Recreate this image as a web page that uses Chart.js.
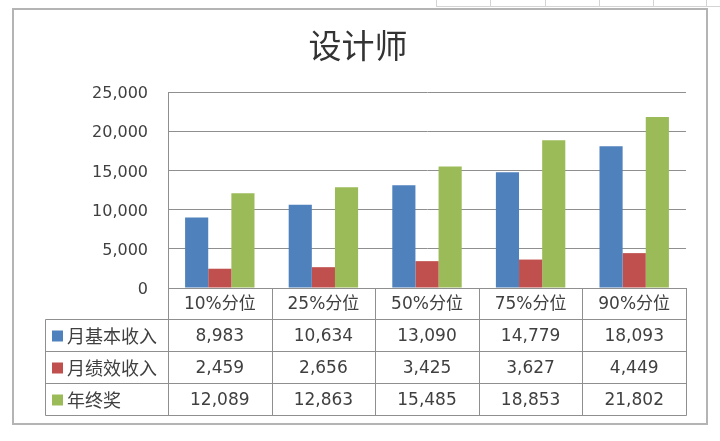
<!DOCTYPE html>
<html>
<head>
<meta charset="utf-8">
<script src="https://cdn.jsdelivr.net/npm/chart.js@4/dist/chart.umd.min.js"></script>
<style>
  html, body { margin: 0; padding: 0; background: #ffffff; }
  #wrap { width: 720px; height: 441px; position: relative; }
</style>
</head>
<body>
<div id="wrap"><canvas id="c" width="720" height="441"></canvas></div>
<script>
// Salary percentiles for designers
const categories = ['10%分位', '25%分位', '50%分位', '75%分位', '90%分位'];
const seriesNames = ['月基本收入', '月绩效收入', '年终奖'];
const baseMonthly = [8983, 10634, 13090, 14779, 18093];
const perfMonthly = [2459, 2656, 3425, 3627, 4449];
const yearBonus = [12089, 12863, 15485, 18853, 21802];
const yTicks = [0, 5000, 10000, 15000, 20000, 25000];
const titleText = '设计师';

const colors = ['#4F81BD', '#C0504D', '#9BBB59'];
const seriesValues = [baseMonthly, perfMonthly, yearBonus];
const FONT = '"DejaVu Sans", "Noto Sans CJK SC", sans-serif';
const CJK = '"Noto Sans CJK SC", "Noto Sans", sans-serif';
const TEXT = '#404040';
const LINE = '#8f8f8f';

const fmt = v => v.toLocaleString('en-US');

// Frame, title and the data table below the plot
const decorPlugin = {
  id: 'decor',
  beforeDraw(chart) {
    const ctx = chart.ctx;
    ctx.save();
    ctx.fillStyle = '#fff';
    ctx.fillRect(0, 0, chart.width, chart.height);
    // spreadsheet cells at the top right
    ctx.strokeStyle = '#d4d4d4';
    ctx.lineWidth = 1;
    ctx.beginPath();
    ctx.moveTo(436, 6.5); ctx.lineTo(720, 6.5);
    [436, 490, 545, 599, 653, 706].forEach(x => {
      ctx.moveTo(x + 0.5, 0); ctx.lineTo(x + 0.5, 7);
    });
    ctx.stroke();
    // chart frame
    ctx.strokeStyle = '#b4b4b4';
    ctx.lineWidth = 2;
    ctx.strokeRect(13, 9, 694, 415);
    // title
    ctx.fillStyle = '#333';
    ctx.font = '33px ' + CJK;
    ctx.textAlign = 'center';
    ctx.textBaseline = 'middle';
    ctx.fillText(titleText, 358, 45);
    ctx.restore();
  },
  afterDraw(chart) {
    const ctx = chart.ctx;
    const xs = chart.scales.x;
    const area = chart.chartArea;
    const n = categories.length;
    const colW = (area.right - area.left) / n;
    const edges = [];
    for (let i = 0; i <= n; i++) edges.push(Math.round(area.left + i * colW) + 0.5);
    const top = Math.round(area.bottom) + 0.5;
    const rows = [top, top + 31, top + 63, top + 95, top + 127];
    const legLeft = 45.5;

    ctx.save();
    ctx.strokeStyle = LINE;
    ctx.lineWidth = 1;
    ctx.beginPath();
    // horizontal lines
    ctx.moveTo(edges[0], rows[0]); ctx.lineTo(edges[n], rows[0]);
    for (let r = 1; r < rows.length; r++) {
      ctx.moveTo(legLeft, rows[r]); ctx.lineTo(edges[n], rows[r]);
    }
    // vertical lines
    edges.forEach(x => { ctx.moveTo(x, rows[0]); ctx.lineTo(x, rows[4]); });
    ctx.moveTo(legLeft, rows[1]); ctx.lineTo(legLeft, rows[4]);
    ctx.stroke();

    ctx.fillStyle = TEXT;
    ctx.font = '17px ' + FONT;
    ctx.textAlign = 'center';
    ctx.textBaseline = 'middle';
    // header row with category names
    categories.forEach((c, i) => {
      const cx = xs.getPixelForValue(i);
      ctx.fillText(c, cx, (rows[0] + rows[1]) / 2 + 1);
    });
    // series rows: legend key, name, then one value per category
    seriesValues.forEach((vals, s) => {
      const cy = (rows[s + 1] + rows[s + 2]) / 2 + 1;
      ctx.fillStyle = colors[s];
      ctx.fillRect(52, cy - 6, 11, 11);
      ctx.fillStyle = TEXT;
      ctx.textAlign = 'left';
      ctx.font = '18px ' + CJK;
      ctx.fillText(seriesNames[s], 67, cy);
      ctx.font = '17px ' + FONT;
      ctx.textAlign = 'center';
      vals.forEach((v, i) => {
        ctx.fillText(fmt(v), xs.getPixelForValue(i), cy);
      });
    });
    ctx.restore();
  }
};

new Chart(document.getElementById('c'), {
  type: 'bar',
  data: {
    labels: categories,
    datasets: seriesNames.map((name, s) => ({
      label: name,
      data: seriesValues[s],
      backgroundColor: colors[s],
      borderWidth: 0,
      categoryPercentage: 0.67,
      barPercentage: 1.0
    }))
  },
  options: {
    responsive: false,
    animation: false,
    devicePixelRatio: 1,
    layout: { padding: { left: 0, right: 34, top: 92, bottom: 153 } },
    plugins: {
      legend: { display: false },
      title: { display: false },
      tooltip: { enabled: false }
    },
    scales: {
      x: {
        grid: { display: false, drawTicks: false },
        border: { display: true, color: LINE },
        ticks: { display: false },
        afterFit(axis) { axis.height = 0; }
      },
      y: {
        min: 0,
        max: 25000,
        afterBuildTicks(axis) { axis.ticks = yTicks.map(v => ({ value: v })); },
        afterFit(axis) { axis.width = 168; },
        grid: { color: LINE, drawTicks: false },
        border: { display: true, color: LINE },
        ticks: {
          padding: 20,
          labelOffset: 2,
          color: TEXT,
          font: { family: FONT, size: 16 },
          callback: v => fmt(v)
        }
      }
    }
  },
  plugins: [decorPlugin]
});
</script>
</body>
</html>
